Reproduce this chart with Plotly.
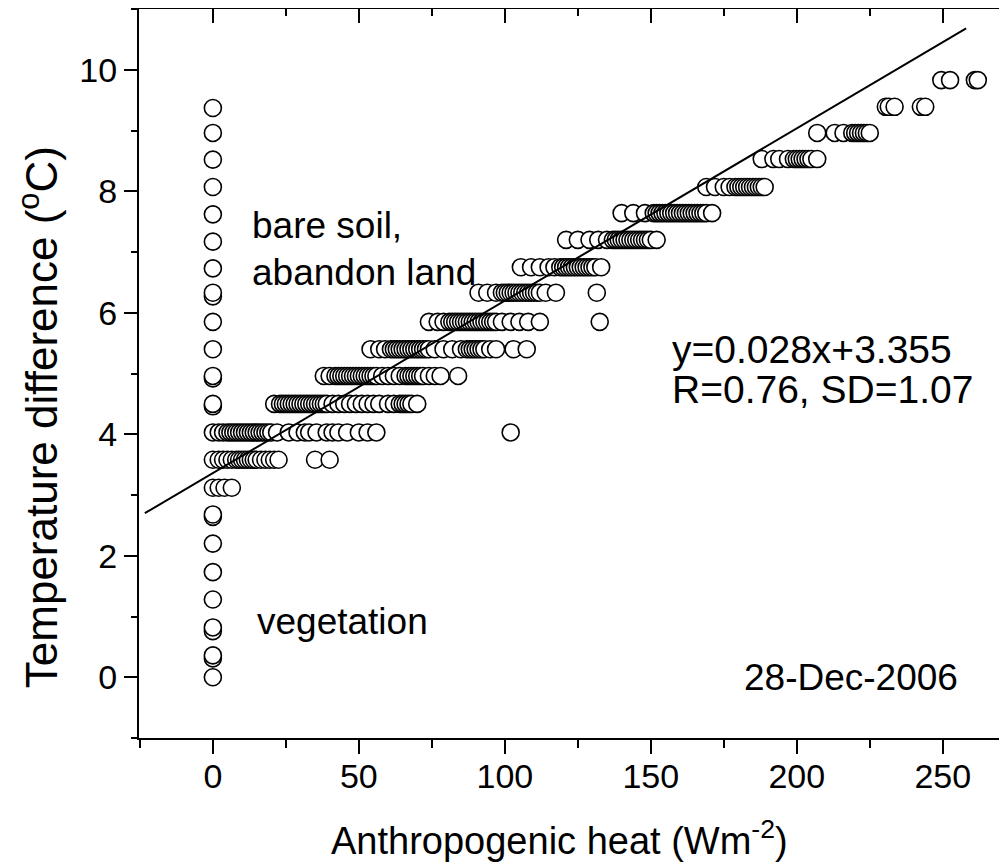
import plotly.graph_objects as go

# ---------------- data ----------------
# discrete temperature-difference levels of the point rows
row_levels = [3.12, 3.58, 4.03, 4.50, 4.96, 5.40, 5.85, 6.33,
              6.75, 7.20, 7.64, 8.07, 8.53, 8.96, 9.39, 9.83]

# anthropogenic heat values of the points on each row
row_3_12 = [0, 2, 4, 6.5]
row_3_58 = [0, 2, 3.5, 5, 6.5, 8, 9, 10, 11, 12, 13, 14, 15, 16.5, 18, 19.5, 21, 22.5, 35, 40]
row_4_03 = [0, 2, 3.5, 5, 6, 7, 8, 9, 10, 11, 12, 13, 14, 15, 16, 17, 18, 19, 20, 22,
            26, 29, 31.5, 33, 35.5, 39, 41, 43, 46, 50, 53, 56, 102]
row_4_50 = [21, 23, 24, 25, 26, 27, 28, 29, 30, 31, 32, 33, 34, 35, 36, 37, 38, 39,
            41, 43, 45, 47, 49, 51, 53, 55, 57, 60, 62, 64, 65, 66, 67, 68, 70]
row_4_96 = [38, 40, 42, 43, 44, 45, 46, 47, 48, 49, 50, 51, 52, 53, 54, 55, 56, 58,
            60, 62, 64, 66, 67, 68, 69, 70, 71, 72, 74, 76, 78, 84]
row_5_40 = [54, 57, 59, 61, 62, 63, 64, 65, 66, 67, 68, 69, 70, 71, 72, 73, 74, 76,
            79, 82, 85, 87, 88, 89, 90, 91, 92, 93, 95, 97, 103, 107.5]
row_5_85 = [74, 77, 79, 81, 82, 83, 84, 85, 86, 87, 88, 89, 90, 91, 92, 93, 94, 95,
            96, 97, 99, 102, 105, 108, 112, 132.5]
row_6_33 = [91, 94, 97, 99, 100, 101, 102, 103, 104, 105, 106, 107, 108, 109, 110,
            111, 112, 114, 117.5, 131.5]
row_6_75 = [105.5, 109, 112, 115, 117, 119, 120, 121, 122, 123, 124, 125, 126, 127,
            128, 129, 130, 131, 133]
row_7_20 = [121, 125, 129, 132, 135, 137, 138, 139, 140, 141, 142, 143, 144, 145,
            146, 147, 148, 149, 150, 152]
row_7_64 = [140, 144, 148, 151, 152, 153, 154, 155, 156, 157, 158, 159, 160, 161,
            162, 163, 164, 165, 166, 167, 168, 169, 171]
row_8_07 = [169, 172, 175, 177, 179, 180, 181, 182, 183, 184, 185, 186, 187, 188, 189]
row_8_53 = [188, 192, 194, 197, 199, 200, 201, 202, 203, 204, 205, 207]
row_8_96 = [207, 213, 216, 219, 220, 221, 222, 223, 224, 225]
row_9_39 = [230.5, 231.5, 233.5, 242.5, 244]
row_9_83 = [249.5, 252.5, 261, 262]

rows_x = [row_3_12, row_3_58, row_4_03, row_4_50, row_4_96, row_5_40, row_5_85, row_6_33,
          row_6_75, row_7_20, row_7_64, row_8_07, row_8_53, row_8_96, row_9_39, row_9_83]

# extra points of the vertical column at zero anthropogenic heat
zero_column_y = [0.0, 0.31, 0.36, 0.76, 0.82, 1.28, 1.73, 2.20, 2.64, 2.68,
                 4.46, 4.50, 4.92, 4.96, 5.40, 5.85, 6.27, 6.33, 6.73, 7.17,
                 7.62, 8.07, 8.52, 8.96, 9.37]

# regression line end points (y = 0.028x + 3.355)
fit_x = [-23.3, 258]
fit_y = [2.70, 10.68]

x_ticks = [0, 50, 100, 150, 200, 250]
y_ticks = [0, 2, 4, 6, 8, 10]

# ---------------- assemble points ----------------
pts = [(0.0, v) for v in zero_column_y]
for lvl, xs in zip(row_levels, rows_x):
    pts += [(x, lvl) for x in xs]
pts.sort(key=lambda p: p[0])
px = [p[0] for p in pts]
py = [p[1] for p in pts]

FONT = "Liberation Sans, Arial, sans-serif"

fig = go.Figure()
fig.add_trace(go.Scatter(
    x=px, y=py, mode="markers",
    marker=dict(symbol="circle", size=17, color="white",
                line=dict(color="black", width=1.6)),
    hoverinfo="x+y", showlegend=False))
fig.add_trace(go.Scatter(
    x=fit_x, y=fit_y, mode="lines",
    line=dict(color="black", width=2), showlegend=False))
# empty trace to activate the mirrored (top / right) axes
fig.add_trace(go.Scatter(x=[None], y=[None], xaxis="x2", yaxis="y2",
                         mode="markers", showlegend=False))

axis_common = dict(showgrid=False, zeroline=False, showline=True,
                   linecolor="black", linewidth=2, tickcolor="black",
                   tickwidth=2)

# the page adds an 8px body margin, so the figure is a bit smaller and margins compensate
fig.update_layout(
    width=999, height=859,
    margin=dict(l=131, r=0, t=1, b=129),
    paper_bgcolor="white", plot_bgcolor="white",
    showlegend=False,
    font=dict(family=FONT, color="black"),
    xaxis=dict(range=[-25.3, 272], tickvals=x_ticks, ticks="outside", ticklen=14,
               tickfont=dict(size=34, family=FONT, color="black"),
               ticklabelstandoff=-7,
               minor=dict(ticks="outside", ticklen=8, tickwidth=2, tickcolor="black",
                          tick0=-25, dtick=50),
               **axis_common),
    yaxis=dict(range=[-1, 11], tickvals=y_ticks, ticks="outside", ticklen=13,
               tickfont=dict(size=34, family=FONT, color="black"),
               minor=dict(ticks="outside", ticklen=6, tickwidth=2, tickcolor="black",
                          tick0=-1, dtick=2),
               **axis_common),
    xaxis2=dict(overlaying="x", matches="x", side="top", anchor="y2",
                tickvals=x_ticks, ticks="inside", ticklen=14, showticklabels=False,
                minor=dict(ticks="inside", ticklen=7, tickwidth=2, tickcolor="black",
                           tick0=-25, dtick=50),
                **axis_common),
    yaxis2=dict(overlaying="y", matches="y", side="right", anchor="x2",
                tickvals=y_ticks, ticks="inside", ticklen=5, showticklabels=False,
                showgrid=False, zeroline=False, showline=False,
                tickcolor="black", tickwidth=2),
)

annos = [
    dict(text="bare soil,", x=12.7, y=7.43, size=37),
    dict(text="abandon land", x=12.7, y=6.67, size=37),
    dict(text="vegetation", x=14.4, y=0.91, size=37),
    dict(text="y=0.028x+3.355", x=156.5, y=5.40, size=39),
    dict(text="R=0.76, SD=1.07", x=156.5, y=4.73, size=39),
    dict(text="28-Dec-2006", x=181.2, y=0.0, size=37),
]
for a in annos:
    fig.add_annotation(text=a["text"], x=a["x"], y=a["y"], xref="x", yref="y",
                       xanchor="left", yanchor="middle", showarrow=False,
                       font=dict(size=a["size"], family=FONT, color="black"))

# axis titles
fig.add_annotation(text="Anthropogenic heat (Wm<sup>-2</sup>)", xref="paper", yref="paper",
                   x=0.485, y=-0.137, xanchor="center", yanchor="middle", showarrow=False,
                   font=dict(size=38, family=FONT, color="black"))
fig.add_annotation(text="Temperature difference (<sup>o</sup>C)", xref="paper", yref="paper",
                   x=-0.1164, y=0.44, xanchor="center", yanchor="middle", showarrow=False,
                   textangle=-90, font=dict(size=44, family=FONT, color="black"))

fig.write_html("out.html")
